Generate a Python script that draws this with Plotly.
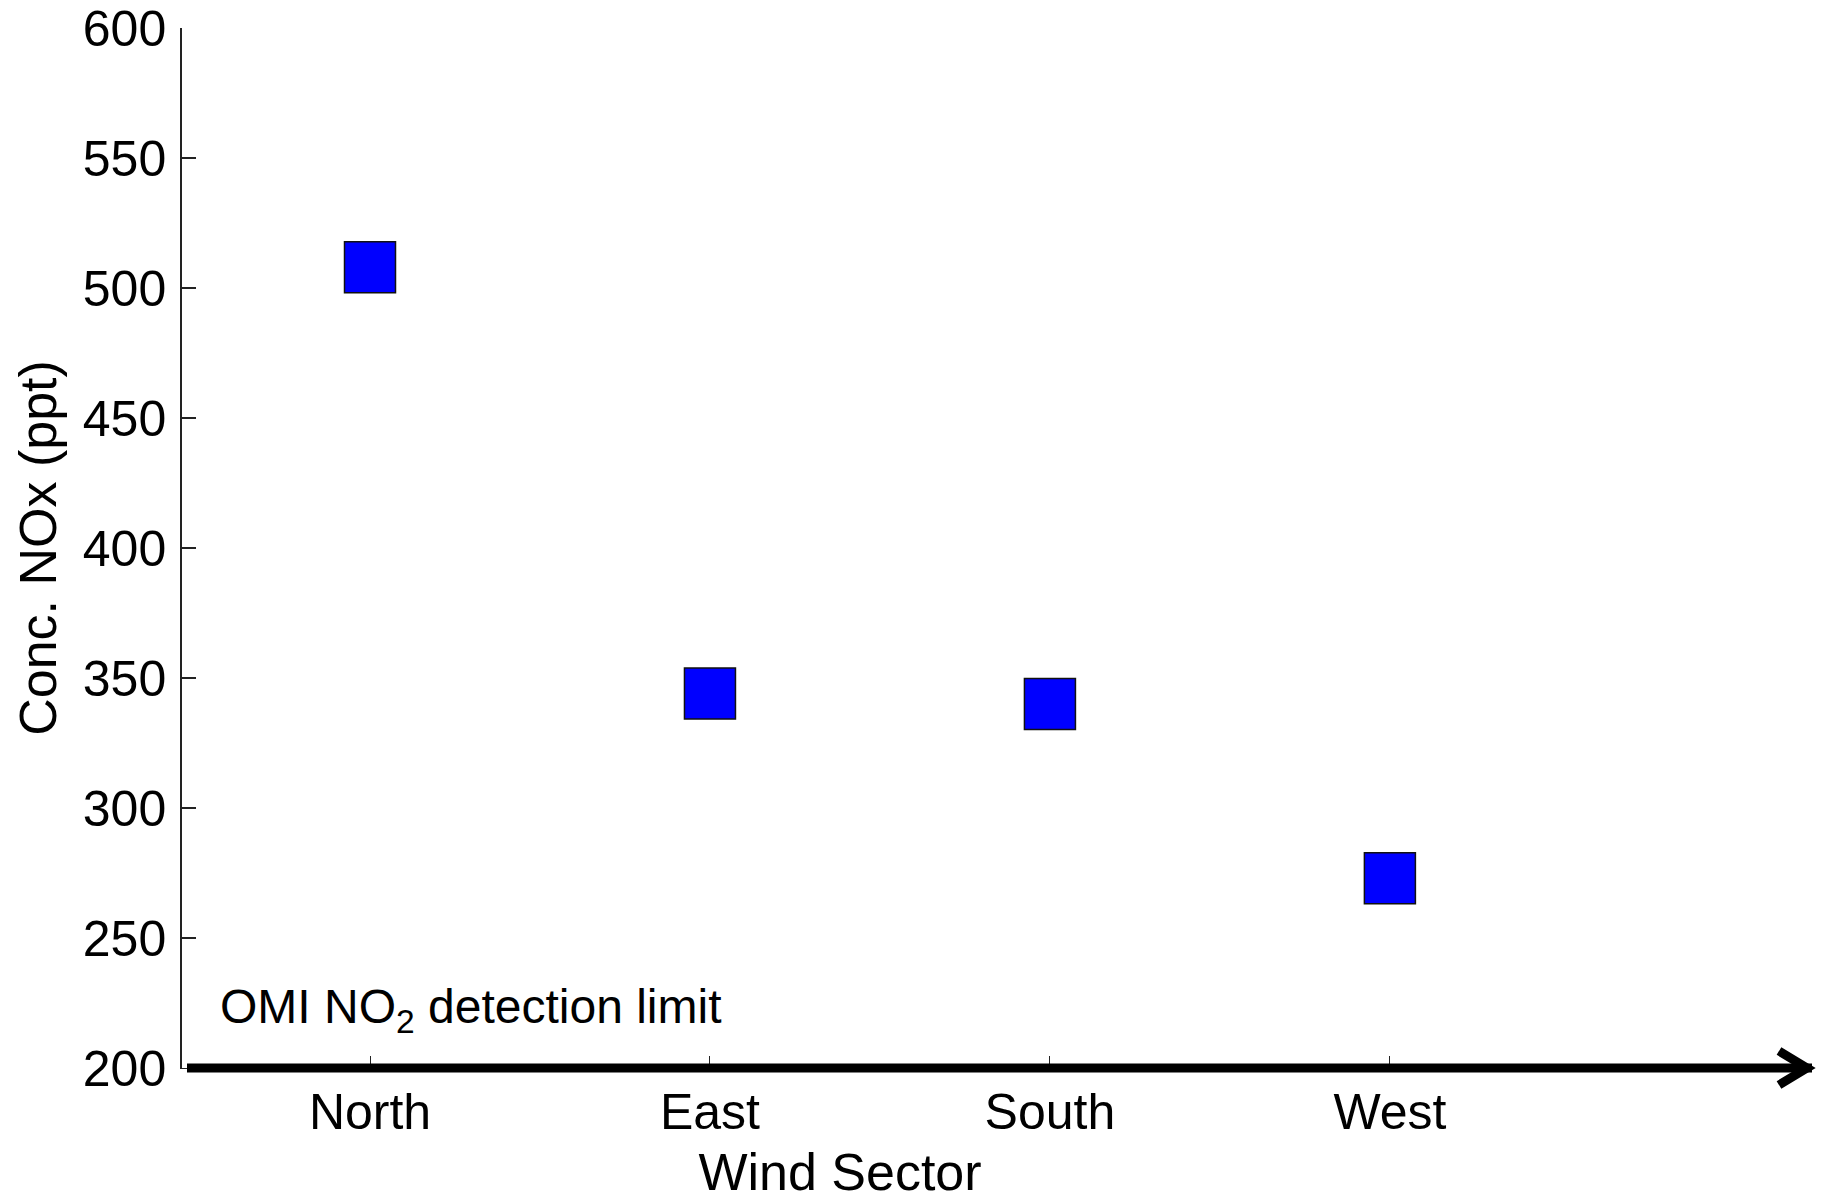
import plotly.graph_objects as go

# NOx concentration by wind sector
sectors = ["North", "East", "South", "West"]
sector_pos = [1, 2, 3, 4]
nox_ppt = [508, 344, 340, 273]

y_ticks = [200, 250, 300, 350, 400, 450, 500, 550, 600]
detection_label = "OMI NO<sub>2</sub> detection limit"

FONT = "Liberation Sans, Arial, Helvetica, sans-serif"

W, H = 1825, 1202
L, R, T, B = 182, 327, 28, 134  # plot area: x 182..1498, y 28..1068

fig = go.Figure()
fig.add_trace(go.Scatter(
    x=sector_pos, y=nox_ppt, mode="markers",
    marker=dict(symbol="square", size=51, color="#0000FF",
                line=dict(color="#111111", width=1.5)),
    showlegend=False, hoverinfo="x+y",
))

# helpers for paper coordinates of decorative arrow
def px_x(px):
    return (px - L) / (W - L - R)

def px_y(py):
    return (H - B - py) / (H - T - B)

shaft_y = px_y(1068)
shapes = [
    dict(type="line", xref="paper", yref="paper",
         x0=px_x(187), x1=px_x(1812), y0=shaft_y, y1=shaft_y,
         line=dict(color="black", width=9)),
    dict(type="path", xref="paper", yref="paper",
         path=(f"M {px_x(1779)} {px_y(1051)} L {px_x(1807)} {px_y(1068)} "
               f"L {px_x(1779)} {px_y(1085)}"),
         line=dict(color="black", width=9)),
]

fig.update_layout(
    width=W, height=H,
    margin=dict(l=L, r=R, t=T, b=B, pad=0, autoexpand=False),
    paper_bgcolor="white", plot_bgcolor="white",
    font=dict(family=FONT, size=50, color="black"),
    shapes=shapes,
    xaxis=dict(
        range=[0.447, 4.318], automargin=True,
        tickmode="array", tickvals=sector_pos, ticktext=sectors,
        ticks="inside", ticklen=12, tickwidth=1, tickcolor="#222222",
        showline=True, linecolor="#222222", linewidth=1,
        showgrid=False, zeroline=False,
        tickfont=dict(size=50, family=FONT),
        ticklabelstandoff=0,
        title=dict(text="Wind Sector", font=dict(size=52, family=FONT), standoff=14),
    ),
    yaxis=dict(
        range=[200, 600], automargin=False,
        tickmode="array", tickvals=y_ticks,
        ticks="inside", ticklen=14, tickwidth=1.5, tickcolor="#222222",
        showline=True, linecolor="#222222", linewidth=1.5,
        showgrid=False, zeroline=False,
        tickfont=dict(size=50, family=FONT),
        ticklabelstandoff=4,
        title=dict(text="Conc. NOx (ppt)", font=dict(size=52, family=FONT), standoff=10),
    ),
    annotations=[dict(
        text=detection_label, xref="paper", yref="paper",
        x=px_x(218), y=px_y(1010), xanchor="left", yanchor="middle",
        showarrow=False, font=dict(size=48, family=FONT, color="black"),
    )],
)

fig.write_html("out.html")
